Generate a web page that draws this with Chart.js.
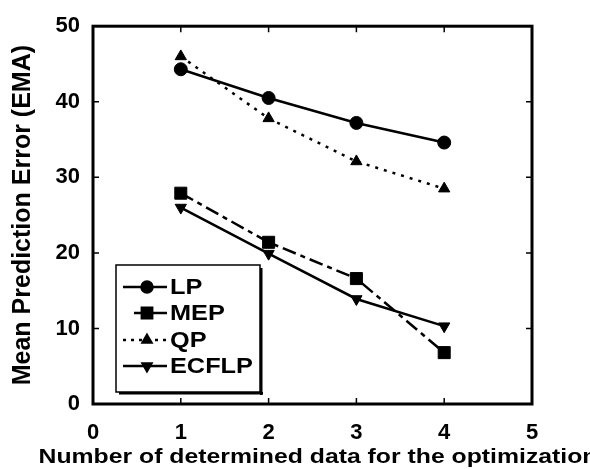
<!DOCTYPE html>
<html>
<head>
<meta charset="utf-8">
<script src="https://cdn.jsdelivr.net/npm/chart.js@4/dist/chart.umd.min.js"></script>
<style>
html,body{margin:0;padding:0;background:#fff;}
#wrap{width:590px;height:469px;position:relative;}
</style>
</head>
<body>
<div id="wrap"><canvas id="c" width="590" height="469"></canvas></div>
<script>
const xValues = [1, 2, 3, 4];
const lpValues = [44.3, 40.5, 37.2, 34.6];
const mepValues = [27.9, 21.4, 16.6, 6.8];
const qpValues = [46.0, 37.8, 32.1, 28.5];
const ecflpValues = [26.0, 19.9, 13.9, 10.3];
const seriesNames = ['LP', 'MEP', 'QP', 'ECFLP'];
const xTicks = [0, 1, 2, 3, 4, 5];
const yTicks = [0, 10, 20, 30, 40, 50];
const xTitle = 'Number of determined data for the optimization';
const yTitle = 'Mean Prediction Error (EMA)';

const FONT = '"Liberation Sans", Arial, Helvetica, sans-serif';

function pts(vals) { return xValues.map((x, i) => ({x: x, y: vals[i]})); }

const datasets = [
  {label: seriesNames[0], data: pts(lpValues), pointStyle: 'circle', pointRadius: 6.5, borderDash: []},
  {label: seriesNames[1], data: pts(mepValues), pointStyle: 'rect', pointRadius: 8.5, borderDash: [14, 5, 5, 5]},
  {label: seriesNames[2], data: pts(qpValues), pointStyle: 'triangle', pointRadius: 6.5, borderDash: [3, 6]},
  {label: seriesNames[3], data: pts(ecflpValues), pointStyle: 'triangle', pointRotation: 180, pointRadius: 6.5, borderDash: []}
];
datasets.forEach(d => {
  d.showLine = true; d.fill = false; d.tension = 0; d.pointBorderWidth = 1;
  d.borderColor = '#000'; d.backgroundColor = '#000'; d.borderWidth = 2.5;
});

function stretchedText(ctx, text, x, y, sx) {
  ctx.save();
  ctx.translate(x, y);
  ctx.scale(sx, 1);
  ctx.fillText(text, 0, 0);
  ctx.restore();
}

const framePlugin = {
  id: 'frame',
  afterDatasetsDraw(chart) {
    const ctx = chart.ctx, a = chart.chartArea;
    const xs = chart.scales.x, ys = chart.scales.y;
    ctx.save();
    ctx.strokeStyle = '#000';
    // inner ticks
    ctx.lineWidth = 1.5;
    ctx.beginPath();
    xTicks.slice(1, -1).forEach(v => {
      const px = xs.getPixelForValue(v);
      ctx.moveTo(px, a.bottom); ctx.lineTo(px, a.bottom - 6);
      ctx.moveTo(px, a.top); ctx.lineTo(px, a.top + 6);
    });
    yTicks.slice(1, -1).forEach(v => {
      const py = ys.getPixelForValue(v);
      ctx.moveTo(a.left, py); ctx.lineTo(a.left + 6, py);
      ctx.moveTo(a.right, py); ctx.lineTo(a.right - 6, py);
    });
    ctx.stroke();
    // frame
    ctx.lineWidth = 3;
    ctx.strokeRect(a.left, a.top, a.right - a.left, a.bottom - a.top);
    // x axis title (drawn without width limit)
    ctx.fillStyle = '#000';
    ctx.font = 'bold 21px ' + FONT;
    ctx.textAlign = 'center';
    ctx.textBaseline = 'middle';
    stretchedText(ctx, xTitle, 318, 457, 1.18);
    // legend
    const lx = 116, ly = 265, lw = 144, lh = 127;
    ctx.fillStyle = '#fff';
    ctx.fillRect(lx, ly, lw, lh);
    ctx.fillStyle = '#000';
    ctx.fillRect(lx + 3, ly + lh, lw, 2.5);
    ctx.fillRect(lx + lw, ly + 3, 2.5, lh);
    ctx.lineWidth = 1.5;
    ctx.strokeRect(lx, ly, lw, lh);
    const rows = [287, 313, 340, 366];
    chart.data.datasets.forEach((d, i) => {
      const y = rows[i];
      ctx.save();
      ctx.lineWidth = d.borderWidth;
      ctx.setLineDash(i === 2 ? [3, 5] : []);
      ctx.beginPath();
      ctx.moveTo(i === 1 ? 134 : 123, y);
      ctx.lineTo(167, y);
      ctx.stroke();
      ctx.restore();
      ctx.save();
      ctx.fillStyle = '#000';
      Chart.helpers.drawPoint(ctx, {pointStyle: d.pointStyle, rotation: d.pointRotation || 0,
        radius: i === 1 ? 8 : 6, borderWidth: 1}, 147, y);
      ctx.restore();
      ctx.fillStyle = '#000';
      ctx.font = 'bold 22px ' + FONT;
      ctx.textBaseline = 'middle';
      ctx.textAlign = 'left';
      stretchedText(ctx, d.label, 170, y + 1, 1.15);
    });
    ctx.restore();
  }
};

new Chart(document.getElementById('c'), {
  type: 'scatter',
  data: {datasets: datasets},
  plugins: [framePlugin],
  options: {
    responsive: false,
    animation: false,
    layout: {padding: {top: 19, right: 58, left: 0, bottom: 0}},
    plugins: {legend: {display: false}, tooltip: {enabled: false}},
    scales: {
      x: {
        type: 'linear', min: 0, max: 5,
        afterFit: s => { s.height = 65; },
        afterBuildTicks: s => { s.ticks = xTicks.map(v => ({value: v})); },
        grid: {display: false, drawTicks: false},
        border: {display: false},
        ticks: {color: '#000', padding: 16, font: {family: FONT, size: 22, weight: 'bold'}},
        title: {display: false}
      },
      y: {
        type: 'linear', min: 0, max: 50,
        afterFit: s => { s.width = 93; },
        afterBuildTicks: s => { s.ticks = yTicks.map(v => ({value: v})); },
        grid: {display: false, drawTicks: false},
        border: {display: false},
        ticks: {color: '#000', padding: 13, font: {family: FONT, size: 22, weight: 'bold'}},
        title: {display: true, text: yTitle, color: '#000',
          font: {family: FONT, size: 25, weight: 'bold'}, padding: {top: 8, bottom: 0}}
      }
    }
  }
});
</script>
</body>
</html>
